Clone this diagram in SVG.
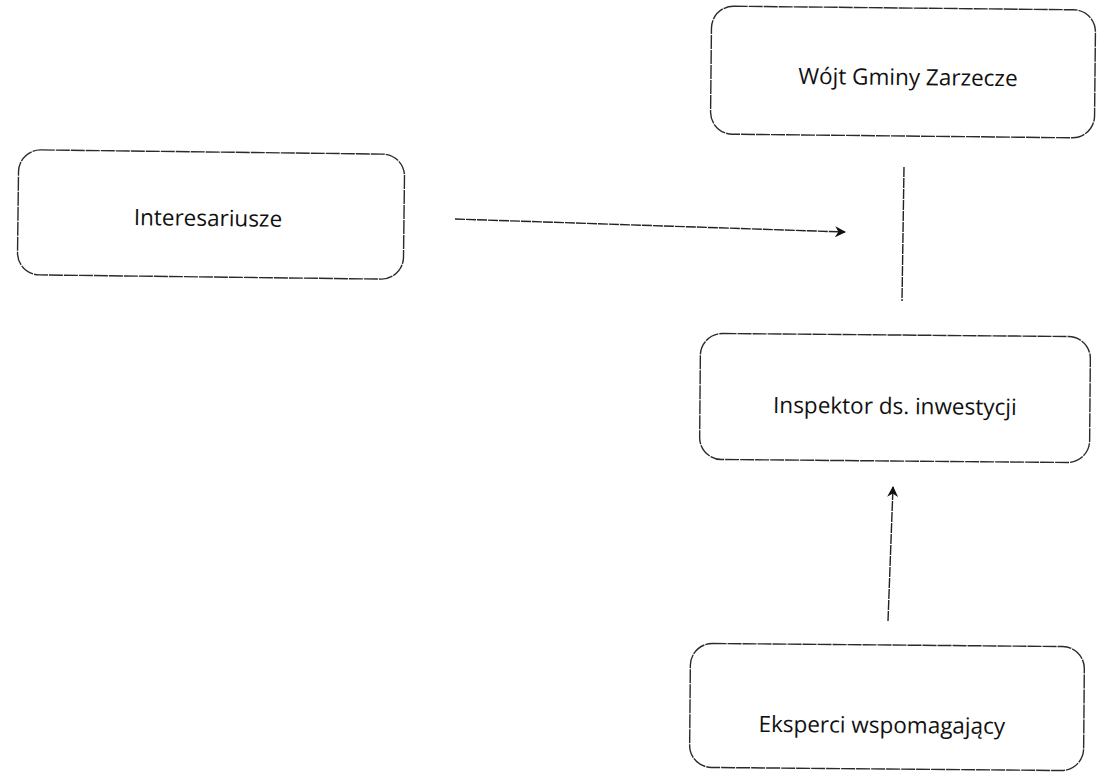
<svg xmlns="http://www.w3.org/2000/svg" width="1097" height="773" viewBox="0 0 1097 773">
<style>
.box{fill:#fff;stroke:#2a2a2a;stroke-width:1.4;stroke-dasharray:14 1}
.lbl{font-family:"Open Sans","Liberation Sans",sans-serif;font-size:22.5px;fill:#111;text-anchor:middle}
.con{stroke:#222;stroke-width:1.4;fill:none;stroke-dasharray:10 1}
</style>
<defs>
<marker id="arr" viewBox="0 0 10 10" refX="9" refY="5" markerWidth="11" markerHeight="11" orient="auto" markerUnits="userSpaceOnUse">
<path d="M0,0 L10,5 L0,10 L3,5 Z" fill="#111"/>
</marker>
</defs>
<rect width="1097" height="773" fill="#fff"/>
<g id="wojt" transform="rotate(0.6 903 73)">
<rect class="box" x="711" y="8" width="384" height="128" rx="22"/>
<text class="lbl" x="908" y="85">Wójt Gminy Zarzecze</text>
</g>
<g id="interesariusze" transform="rotate(0.7 211 215)">
<rect class="box" x="18" y="152" width="386" height="125" rx="22"/>
<text class="lbl" x="208" y="226">Interesariusze</text>
</g>
<g id="inspektor" transform="rotate(0.5 895 398)">
<rect class="box" x="700" y="335" width="390" height="126" rx="22"/>
<text class="lbl" x="895" y="414">Inspektor ds. inwestycji</text>
</g>
<g id="eksperci" transform="rotate(0.5 887 706)">
<rect class="box" x="690" y="645" width="394" height="124" rx="22"/>
<text class="lbl" x="882" y="733">Eksperci wspomagający</text>
</g>
<g id="connectors">
<line class="con" x1="455" y1="219" x2="845" y2="232" marker-end="url(#arr)"/>
<line class="con" x1="904" y1="167" x2="902" y2="301"/>
<line class="con" x1="888" y1="621" x2="893" y2="487" marker-end="url(#arr)"/>
</g>
</svg>
